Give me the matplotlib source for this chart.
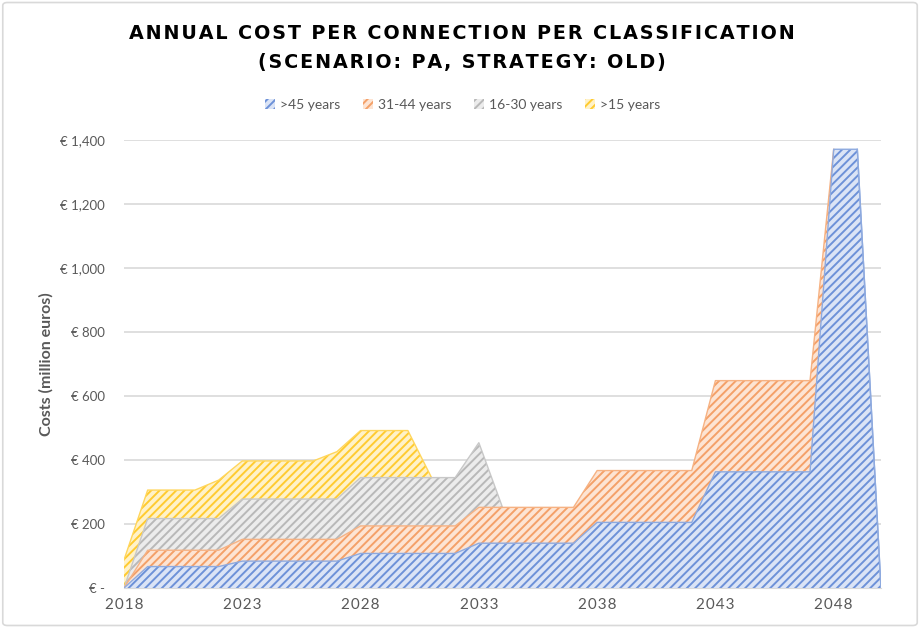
import matplotlib.pyplot as plt
import matplotlib.patches as mpatches
import numpy as np

plt.rcParams['font.family'] = ['Lato', 'DejaVu Sans']
plt.rcParams['hatch.linewidth'] = 1.4

# data (million euros)
years = list(range(2018, 2051))
over_45 = [0, 67, 67, 67, 67, 84, 84, 84, 84, 84, 108, 108, 108, 108, 108,
           140, 140, 140, 140, 140, 205, 205, 205, 205, 205,
           363, 363, 363, 363, 363, 1371, 1371, 0]
y31_44 = [0, 51, 51, 51, 51, 68, 68, 68, 68, 68, 86, 86, 86, 86, 86,
          112, 112, 112, 112, 112, 162, 162, 162, 162, 162,
          285, 285, 285, 285, 285, 0, 0, 0]
y16_30 = [0, 99, 99, 99, 99, 126, 126, 126, 126, 126, 151, 151, 151, 151, 151,
          202, 0, 0, 0, 0, 0, 0, 0, 0, 0, 0, 0, 0, 0, 0, 0, 0, 0]
under_15 = [88, 89, 89, 89, 120, 119, 119, 119, 119, 148, 147, 147, 147,
            0, 0, 0, 0, 0, 0, 0, 0, 0, 0, 0, 0, 0, 0, 0, 0, 0, 0, 0, 0]

labels = ['>45 years', '31-44 years', '16-30 years', '>15 years']
face_colors = ['#dbe4f6', '#fde4d3', '#ececec', '#fff2c8']
line_colors = ['#6d91d8', '#f4a068', '#b8b8b8', '#ffcb30']
edge_colors = ['#8eaadf', '#f6b283', '#c8c8c8', '#ffd65c']

fig = plt.figure(figsize=(9.2, 6.28), dpi=100)
ax = fig.add_axes([0.1348, 0.0637, 0.8228, 0.7134])

series = np.array([over_45, y31_44, y16_30, under_15], dtype=float)
tops = np.cumsum(series, axis=0)
bottom = np.zeros(len(years))
handles = []
for i in range(4):
    h = ax.fill_between(years, bottom, tops[i], facecolor=face_colors[i],
                        edgecolor=line_colors[i], hatch='////', linewidth=0,
                        label=labels[i], zorder=3)
    handles.append(h)
    # thin top outline, only where the band has some thickness nearby
    s = series[i]
    keep = (s > 0) | (np.roll(s, 1) > 0) | (np.roll(s, -1) > 0)
    keep[0] = s[0] > 0 or s[1] > 0
    keep[-1] = s[-1] > 0 or s[-2] > 0
    line = np.where(keep, tops[i], np.nan)
    ax.plot(years, line, color=edge_colors[i], linewidth=1.0, zorder=8 - i)
    bottom = tops[i]
# right edge of the last band
ax.plot([years[-2], years[-1]], [tops[0][-2], tops[0][-1]],
        color=edge_colors[0], linewidth=1.0, zorder=8)

ax.set_xlim(2018, 2050)
ax.set_ylim(0, 1400)
ax.set_yticks(range(0, 1401, 200))
ax.set_yticklabels(['€ -'] + ['€ {:,}'.format(v) for v in range(200, 1401, 200)])
ax.set_xticks(range(2018, 2050, 5))
ax.set_xticklabels(['\u200a'.join(str(y)) for y in range(2018, 2050, 5)])
ax.tick_params(axis='y', length=0, pad=14, labelsize=9.5, labelcolor='#595959')
ax.tick_params(axis='x', length=0, pad=7, labelsize=11, labelcolor='#595959')
ax.grid(axis='y', color='#d9d9d9', linewidth=1.2, zorder=0)
for s in ['top', 'right', 'left']:
    ax.spines[s].set_visible(False)
ax.spines['bottom'].set_color('#d9d9d9')

ax.set_ylabel('Costs (million euros)', fontsize=11.5, fontweight='bold',
              color='#595959')
ax.yaxis.set_label_coords(-0.093, 0.5)

title1 = 'ANNUAL COST PER CONNECTION PER CLASSIFICATION'
title2 = '(SCENARIO: PA, STRATEGY: OLD)'
sp = lambda t: '\u200a'.join(t)
fig.text(0.502, 0.947, sp(title1), ha='center', va='center', fontsize=13.8,
         fontweight='bold', color='black', family=['DejaVu Sans'])
fig.text(0.502, 0.900, sp(title2), ha='center', va='center', fontsize=13.8,
         fontweight='bold', color='black', family=['DejaVu Sans'])

fig.legend(handles=handles, loc='center', bbox_to_anchor=(0.503, 0.833),
           ncol=4, frameon=False, fontsize=10, labelcolor='#595959',
           handlelength=0.7, handleheight=0.7, handletextpad=0.4,
           columnspacing=1.6)

fig.patches.append(mpatches.FancyBboxPatch(
    (0.003, 0.004), 0.994, 0.992, boxstyle='round,pad=0,rounding_size=0.005',
    transform=fig.transFigure, fill=False, edgecolor='#d9d9d9', linewidth=1.2))

fig.savefig('out.png', dpi=100)
